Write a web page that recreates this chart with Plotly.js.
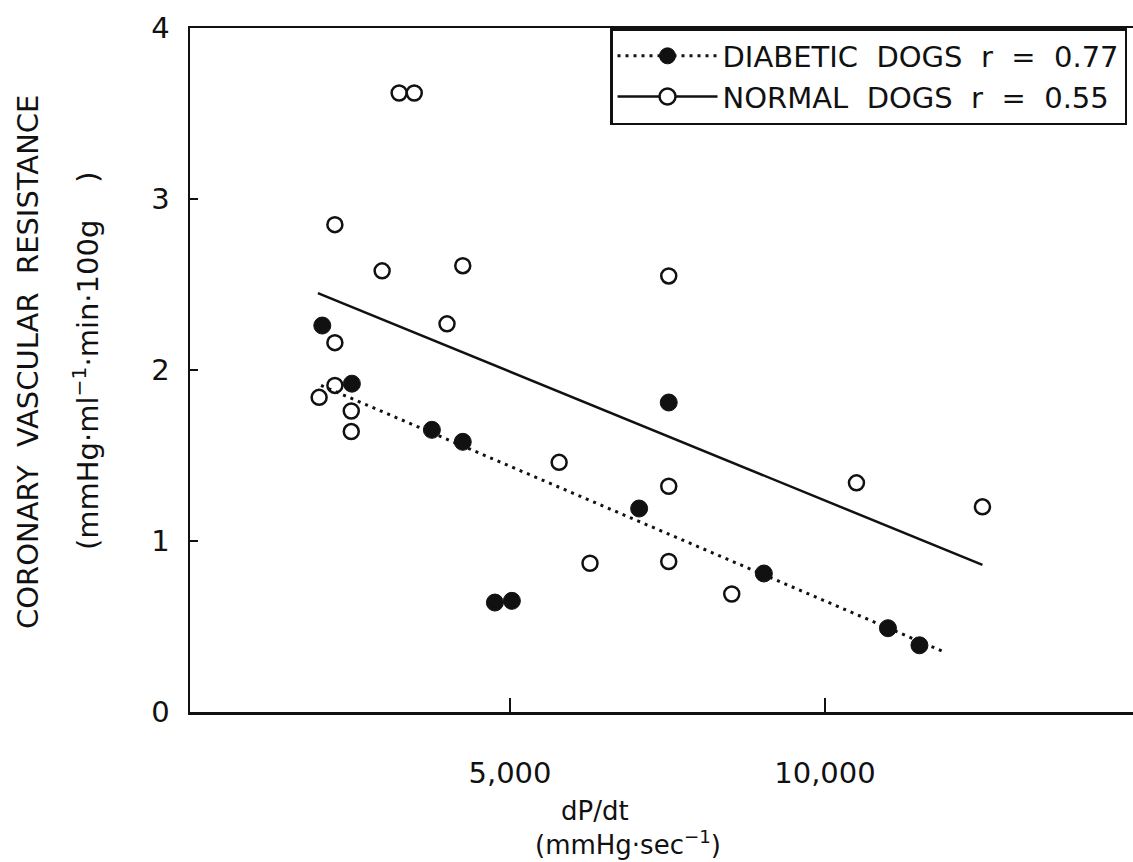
<!DOCTYPE html>
<html><head><meta charset="utf-8">
<script src="https://cdn.plot.ly/plotly-3.0.1.min.js"></script>
<style>html,body{margin:0;padding:0;background:#fff}</style>
</head><body><div id="chart" style="width:1133px;height:862px"></div>
<script>
// Normal dogs (open circles)
var normalX = [3240, 3480, 2220, 2970, 4250, 7520, 4000, 2220, 2220, 1970, 2480, 2480, 5780, 7520, 10500, 12500, 6270, 7520, 8520];
var normalY = [3.62, 3.62, 2.85, 2.58, 2.61, 2.55, 2.27, 2.16, 1.91, 1.84, 1.76, 1.64, 1.46, 1.32, 1.34, 1.20, 0.87, 0.88, 0.69];
// Diabetic dogs (filled circles)
var diabeticX = [2020, 2490, 3760, 4250, 7520, 7050, 9030, 11000, 11500, 4760, 5030];
var diabeticY = [2.26, 1.92, 1.65, 1.58, 1.81, 1.19, 0.81, 0.49, 0.39, 0.64, 0.65];
// Regression lines (endpoints)
var normalFitX = [1950, 12500];
var normalFitY = [2.45, 0.86];
var diabeticFitX = [2000, 11900];
var diabeticFitY = [1.91, 0.35];
// Labels
var normalLabel = "NORMAL\u00a0 DOGS\u00a0 r\u00a0 =\u00a0 0.55";
var diabeticLabel = "DIABETIC\u00a0 DOGS\u00a0 r\u00a0 =\u00a0 0.77";
var xTickVals = [5000, 10000];
var yTickVals = [0, 1, 2, 3, 4];

var FONT = "DejaVu Sans";
var INK = "#111";
var FS = 29;

var traces = [
  {x: normalFitX, y: normalFitY, mode: "lines", showlegend: false,
   line: {color: INK, width: 2.5}, hoverinfo: "skip"},
  {x: diabeticFitX, y: diabeticFitY, mode: "lines", showlegend: false,
   line: {color: INK, width: 3, dash: "3px,5px"}, hoverinfo: "skip"},
  {x: normalX, y: normalY, mode: "markers", showlegend: false,
   marker: {symbol: "circle", size: 15, color: "rgba(255,255,255,0)", line: {color: INK, width: 2.5}}},
  {x: diabeticX, y: diabeticY, mode: "markers", showlegend: false,
   marker: {symbol: "circle", size: 17, color: INK, line: {color: INK, width: 1}}},
  // legend keys
  {x: [null], y: [null], mode: "lines+markers", name: diabeticLabel,
   line: {color: INK, width: 3, dash: "3px,5px"},
   marker: {symbol: "circle", size: 18, color: INK, line: {color: INK, width: 1}}},
  {x: [null], y: [null], mode: "lines+markers", name: normalLabel,
   line: {color: INK, width: 2.5},
   marker: {symbol: "circle", size: 18, color: "#fff", line: {color: INK, width: 2.5}}}
];

var layout = {
  width: 1133, height: 862,
  margin: {l: 190, r: 0, t: 28, b: 150, pad: 0},
  paper_bgcolor: "#fff", plot_bgcolor: "#fff",
  font: {family: FONT, size: FS, color: INK},
  showlegend: true,
  legend: {
    x: 0.4454, y: 1, xanchor: "left", yanchor: "top",
    bgcolor: "#fff", bordercolor: INK, borderwidth: 2.5,
    font: {family: FONT, size: FS, color: INK},
    itemwidth: 100, tracegroupgap: 0
  },
  xaxis: {
    range: [-80, 14890], showgrid: false, zeroline: false,
    showline: true, linecolor: INK, linewidth: 2.5, mirror: true,
    tickvals: xTickVals, tickformat: ",d", ticks: "inside", ticklen: 14, tickwidth: 2, tickcolor: INK,
    ticklabelstandoff: 34,
    tickfont: {family: FONT, size: FS, color: INK}
  },
  yaxis: {
    range: [0, 4], showgrid: false, zeroline: false,
    showline: true, linecolor: INK, linewidth: 2.5,
    tickvals: yTickVals, ticks: "inside", ticklen: 8, tickwidth: 2, tickcolor: INK,
    ticklabelstandoff: 12,
    tickfont: {family: FONT, size: FS, color: INK}
  },
  annotations: [
    {text: "CORONARY\u00a0 VASCULAR\u00a0 RESISTANCE", xref: "paper", yref: "paper",
     x: -0.1718, y: 0.5117, textangle: -90, showarrow: false, xanchor: "center", yanchor: "middle",
     font: {family: FONT, size: FS, color: INK}},
    {text: "(mmHg\u00b7ml<sup>\u22121</sup>\u00b7min\u00b7100g\u00a0\u00a0\u00a0\u00a0)", xref: "paper", yref: "paper",
     x: -0.1103, y: 0.5146, textangle: -90, showarrow: false, xanchor: "center", yanchor: "middle",
     font: {family: FONT, size: FS, color: INK}},
    {text: "dP/dt\u00a0\u00a0\u00a0\u00a0\u00a0\u00a0\u00a0\u00a0<br>(mmHg\u00b7sec<sup>\u22121</sup>)", xref: "paper", yref: "paper",
     x: 0.4645, y: -0.2178, borderpad: 0,
     showarrow: false, xanchor: "center", yanchor: "bottom", align: "center",
     font: {family: FONT, size: 26, color: INK}}
  ]
};

Plotly.newPlot("chart", traces, layout, {staticPlot: true, displayModeBar: false});
</script></body></html>
